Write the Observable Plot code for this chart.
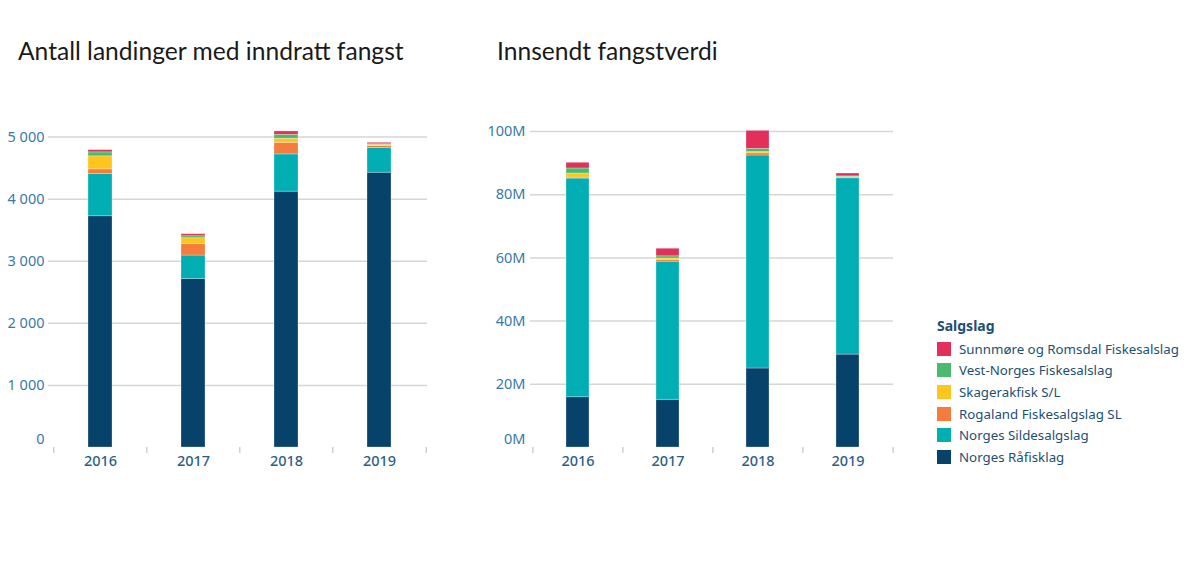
<!DOCTYPE html>
<html>
<head>
<meta charset="utf-8">
<script src="https://cdn.jsdelivr.net/npm/d3@7"></script>
<script src="https://cdn.jsdelivr.net/npm/@observablehq/plot@0.6"></script>
<style>
  html, body { margin: 0; padding: 0; background: #fff; }
  body { width: 1200px; height: 569px; position: relative; overflow: hidden; font-family: "Noto Sans", sans-serif; }
  .title { position: absolute; top: 36px; font-family: Lato, "Noto Sans", sans-serif; font-size: 24.6px; color: #1a1a1a; white-space: nowrap; }
  .chart { position: absolute; top: 100px; }
  .legend { position: absolute; left: 937px; top: 316px; color: #1d4f73; font-size: 13.3px; }
  .legend .lt { font-weight: bold; font-size: 14px; margin-bottom: 3px; }
  .legend .it { display: flex; align-items: center; height: 21.6px; white-space: nowrap; }
  .legend .sw { width: 14px; height: 14px; margin-right: 8px; }
</style>
</head>
<body>
<div class="title" style="left:18px">Antall landinger med inndratt fangst</div>
<div class="title" style="left:497px">Innsendt fangstverdi</div>
<div class="chart" id="left" style="left:0px"></div>
<div class="chart" id="right" style="left:470px"></div>
<div class="legend" id="legend"></div>
<script>
// ---- data ----
const years = ["2016", "2017", "2018", "2019"];
const series = [
  "Norges Råfisklag",
  "Norges Sildesalgslag",
  "Rogaland Fiskesalgslag SL",
  "Skagerakfisk S/L",
  "Vest-Norges Fiskesalslag",
  "Sunnmøre og Romsdal Fiskesalslag"
];
const colors = ["#06426a", "#00aeb3", "#f47c3c", "#fdc51e", "#4bba6e", "#e2305a"];

// Antall landinger med inndratt fangst (per series, per year)
const landRaafisk   = [3725, 2714, 4121, 4426];
const landSilde     = [680, 378, 600, 397];
const landRogaland  = [75, 183, 187, 32];
const landSkagerak  = [210, 96, 65, 21];
const landVest      = [64, 32, 64, 10];
const landSunnmore  = [36, 33, 54, 22];

// Innsendt fangstverdi, millioner kroner
const verdiRaafisk  = [15.9, 15.1, 25.0, 29.4];
const verdiSilde    = [69.2, 43.7, 67.4, 55.8];
const verdiRogaland = [0.3, 0.5, 0.7, 0.2];
const verdiSkagerak = [1.3, 0.5, 0.4, 0.2];
const verdiVest     = [1.6, 0.7, 1.0, 0.2];
const verdiSunnmore = [1.8, 2.4, 5.7, 0.9];

const leftTicks = [0, 1000, 2000, 3000, 4000, 5000];
const rightTicks = [0, 20e6, 40e6, 60e6, 80e6, 100e6];

// ---- build tables ----
function table(arrs, scale) {
  const rows = [];
  arrs.forEach((arr, si) => arr.forEach((v, yi) => rows.push({year: years[yi], series: series[si], value: v * scale})));
  return rows;
}
const landRows = table([landRaafisk, landSilde, landRogaland, landSkagerak, landVest, landSunnmore], 1);
const verdiRows = table([verdiRaafisk, verdiSilde, verdiRogaland, verdiSkagerak, verdiVest, verdiSunnmore], 1e6);

const fmtThousands = d3.formatLocale({thousands: " ", grouping: [3], decimal: ",", currency: ["", ""]}).format(",d");
const fmtM = d => `${d / 1e6}M`;

function makeChart({rows, ticks, fmt, width, marginLeft, marginRight, marginTop, height, yMax, labelColor, gridExtend, tickPadding}) {
  const marginBottom = 33;
  const innerW = width - marginLeft - marginRight;
  const half = innerW / years.length / 2;
  return Plot.plot({
    width, height, marginLeft, marginRight, marginTop, marginBottom,
    style: {fontFamily: "'Noto Sans', sans-serif", fontSize: "13.5px", background: "white", overflow: "visible"},
    x: {type: "band", domain: years, paddingInner: 0.74, paddingOuter: 0.37, label: null, axis: null},
    y: {domain: [0, yMax], label: null, axis: null},
    color: {domain: series, range: colors},
    marks: [
      Plot.ruleY(ticks.filter(t => t > 0), {stroke: "#d6d6d6", strokeWidth: 1.5, insetLeft: -gridExtend}),
      Plot.barY(rows, {x: "year", y: "value", fill: "series", order: series, stroke: "white", strokeOpacity: 0.35, strokeWidth: 0.8, inset: 0}),
      Plot.axisY(ticks.filter(t => t > 0), {tickSize: 0, tickPadding, tickFormat: fmt, fill: labelColor, fontSize: 14.5, label: null}),
      Plot.axisY([0], {tickSize: 0, tickPadding, tickFormat: fmt, fill: labelColor, fontSize: 14.5, dy: -8, label: null}),
      Plot.axisX(years, {tickSize: 0, tickPadding: 8, fill: "#2d5f86", fontSize: 14.5, label: null, fontWeight: 500}),
      Plot.ruleX(years, {x: d => d, dx: -half, y1: 0, y2: 0, insetBottom: -6, stroke: "#cfcfcf", strokeWidth: 1.5}),
      Plot.ruleX([years[years.length - 1]], {x: d => d, dx: half, y1: 0, y2: 0, insetBottom: -6, stroke: "#cfcfcf", strokeWidth: 1.5})
    ]
  });
}

document.getElementById("left").append(makeChart({
  rows: landRows, ticks: leftTicks, fmt: fmtThousands,
  width: 440, marginLeft: 53, marginRight: 13, marginTop: 36.6, height: 380, yMax: 5000, labelColor: "#3a78a8",
  gridExtend: 5, tickPadding: 9
}));
document.getElementById("right").append(makeChart({
  rows: verdiRows, ticks: rightTicks, fmt: fmtM,
  width: 430, marginLeft: 62, marginRight: 7, marginTop: 31, height: 380, yMax: 100e6, labelColor: "#3a78a8",
  gridExtend: 2, tickPadding: 7
}));

// legend
const lg = document.getElementById("legend");
const t = document.createElement("div");
t.className = "lt"; t.textContent = "Salgslag"; lg.append(t);
series.slice().reverse().forEach(s => {
  const it = document.createElement("div"); it.className = "it";
  const sw = document.createElement("div"); sw.className = "sw"; sw.style.background = colors[series.indexOf(s)];
  const tx = document.createElement("span"); tx.textContent = s;
  it.append(sw, tx); lg.append(it);
});
</script>
</body>
</html>
